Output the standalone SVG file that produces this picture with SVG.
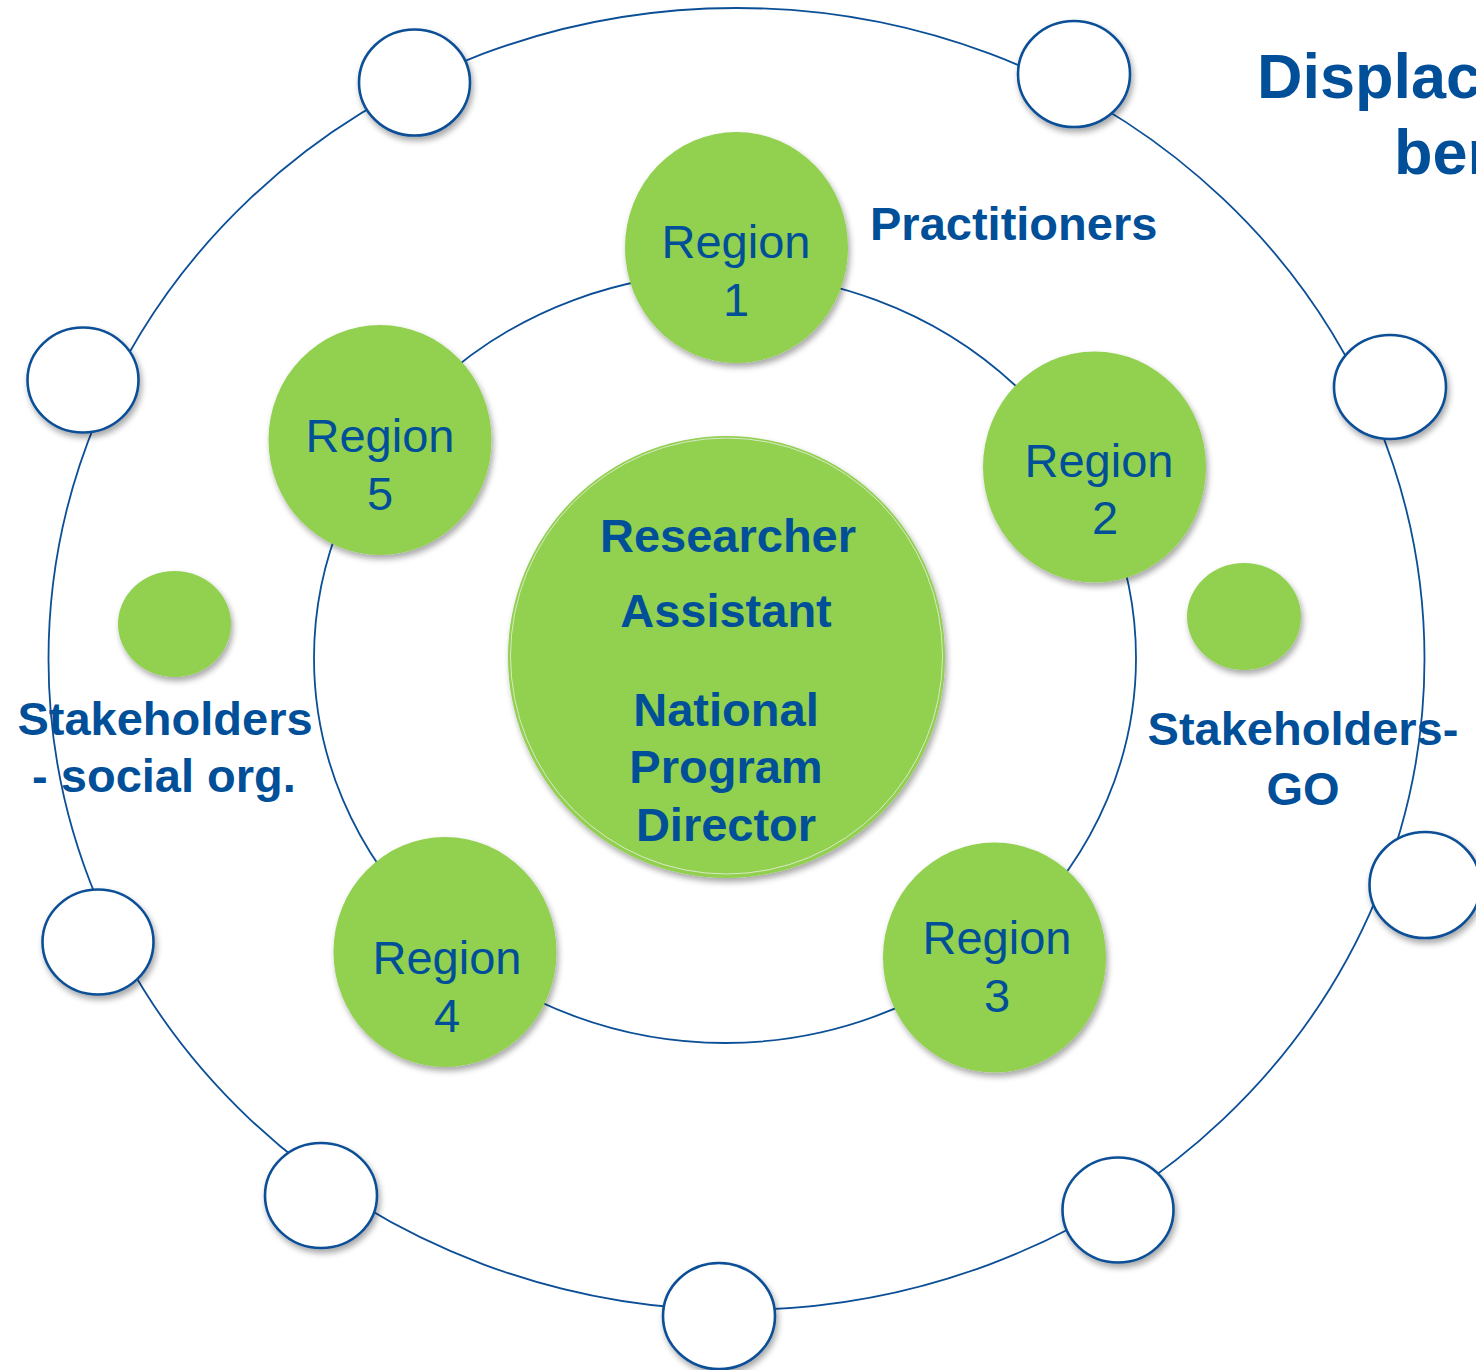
<svg xmlns="http://www.w3.org/2000/svg" width="1476" height="1370" viewBox="0 0 1476 1370">
<defs>
<filter id="sh" x="-20%" y="-20%" width="150%" height="150%">
<feGaussianBlur in="SourceAlpha" stdDeviation="3"/>
<feOffset dx="2" dy="4" result="b"/>
<feComponentTransfer><feFuncA type="linear" slope="0.35"/></feComponentTransfer>
<feMerge><feMergeNode/><feMergeNode in="SourceGraphic"/></feMerge>
</filter>
</defs>
<style>
.ring{fill:none;stroke:#0b4f97;stroke-width:1.8}
.g{fill:#92d050;filter:url(#sh)}
.w{fill:#ffffff;stroke:#0b4f97;stroke-width:2.6;filter:url(#sh)}
.t{font-family:"Liberation Sans",Arial,sans-serif;fill:#004f98;text-anchor:middle}
.r{font-size:47px}
.b{font-size:47px;font-weight:bold}
.title{font-size:63px;font-weight:bold;font-family:"Liberation Sans",Arial,sans-serif;fill:#004f98}
</style>
<rect width="1476" height="1370" fill="#ffffff"/>
<g id="connectors">
<ellipse class="ring" cx="736.5" cy="659" rx="688" ry="651"/>
<ellipse class="ring" cx="725" cy="658" rx="411" ry="385"/>
</g>
<g id="outer-nodes">
<ellipse id="o1" class="w" cx="414.5" cy="82.5" rx="55.5" ry="53"/>
<ellipse id="o2" class="w" cx="1074" cy="74" rx="56" ry="53"/>
<ellipse id="o3" class="w" cx="83" cy="380" rx="55.5" ry="52.5"/>
<ellipse id="o4" class="w" cx="1390" cy="387" rx="56" ry="52"/>
<ellipse id="o5" class="w" cx="98" cy="942" rx="55.5" ry="52.5"/>
<ellipse id="o6" class="w" cx="1425" cy="885" rx="55.5" ry="53"/>
<ellipse id="o7" class="w" cx="321" cy="1195.5" rx="56" ry="52.5"/>
<ellipse id="o8" class="w" cx="1118" cy="1210" rx="55.5" ry="52.5"/>
<ellipse id="o9" class="w" cx="719" cy="1316" rx="56" ry="53"/>
</g>
<g id="region1"><ellipse class="g" cx="736.5" cy="247.5" rx="111.5" ry="115.5"/>
<text class="t r" x="736" y="258">Region</text><text class="t r" x="736" y="316">1</text></g>
<g id="region2"><ellipse class="g" cx="1094.5" cy="467" rx="111.5" ry="115.5"/>
<text class="t r" x="1099" y="477">Region</text><text class="t r" x="1105" y="534">2</text></g>
<g id="region3"><ellipse class="g" cx="994.5" cy="957.5" rx="111.5" ry="115"/>
<text class="t r" x="997" y="954">Region</text><text class="t r" x="997" y="1012">3</text></g>
<g id="region4"><ellipse class="g" cx="445" cy="952" rx="111.5" ry="115"/>
<text class="t r" x="447" y="974">Region</text><text class="t r" x="447" y="1032">4</text></g>
<g id="region5"><ellipse class="g" cx="380" cy="440" rx="111.5" ry="115"/>
<text class="t r" x="380" y="452">Region</text><text class="t r" x="380" y="510">5</text></g>
<g id="center"><ellipse class="g" cx="726.5" cy="657" rx="218.5" ry="221"/>
<ellipse cx="726.5" cy="656" rx="216" ry="218" fill="none" stroke="#d9e8c8" stroke-width="1"/>
<text class="t b" x="728" y="552">Researcher</text>
<text class="t b" x="726" y="627">Assistant</text>
<text class="t b" x="726" y="726">National</text>
<text class="t b" x="726" y="783">Program</text>
<text class="t b" x="726" y="841">Director</text></g>
<g id="stake-social"><ellipse class="g" cx="174.5" cy="624" rx="56.5" ry="53"/>
<text class="t b" x="165" y="735">Stakeholders</text><text class="t b" x="164" y="792">- social org.</text></g>
<g id="stake-go"><ellipse class="g" cx="1244" cy="616.5" rx="57" ry="53.5"/>
<text class="t b" x="1303" y="745">Stakeholders-</text><text class="t b" x="1303" y="805">GO</text></g>
<g id="practitioners"><text class="t b" x="870" y="240" style="text-anchor:start">Practitioners</text></g>
<g id="title"><text class="title" x="1257" y="98">Displac</text><text class="title" x="1394" y="174">ben</text></g>
</svg>
